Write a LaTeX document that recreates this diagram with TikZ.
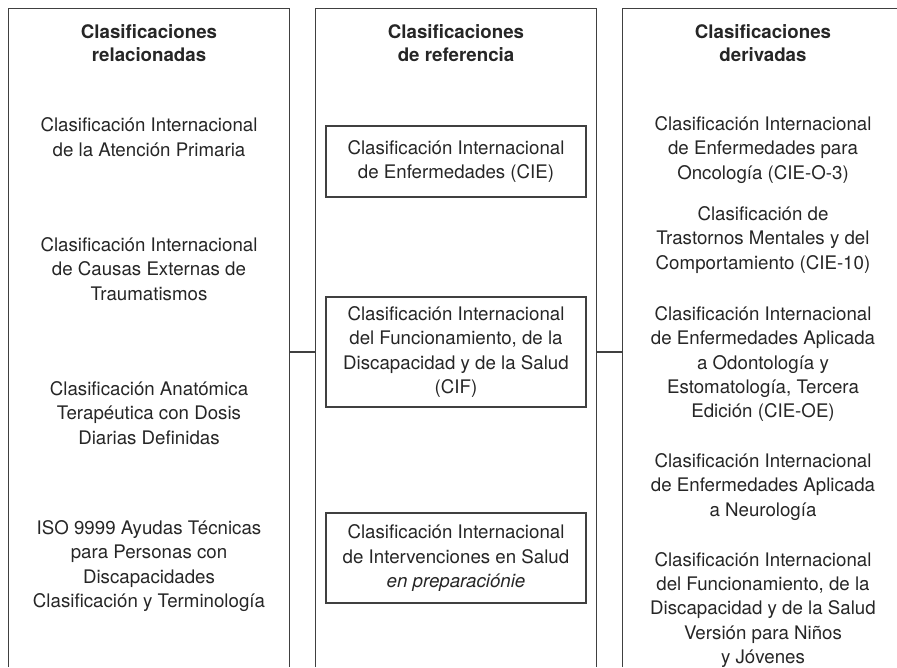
\documentclass[tikz,border=0pt]{standalone}
\usepackage{fontspec}
\setmainfont{TeX Gyre Heros}
\begin{document}
\begin{tikzpicture}[x=1pt,y=-1pt,
    every node/.style={font=\fontsize{18.7}{24.4}\selectfont,text=black!85,align=center,inner sep=0pt},
    head/.style={font=\fontsize{18.7}{23}\selectfont\bfseries},
    colbox/.style={minimum width=280pt,minimum height=658pt},
    refbox/.style={draw=black!75,line width=1.1pt,minimum width=260pt},
    rule/.style={draw=black!75,line width=1.1pt}]
        \useasboundingbox (0,0) rectangle (897,667);
        \clip (0,0) rectangle (897,667);
        % the three columns, open at the bottom
        \node[colbox] (rel) at (149,338) {};
        \node[colbox] (ref) at (456,338) {};
        \node[colbox] (der) at (763,338) {};
        \foreach \c in {rel,ref,der}
          \draw[rule] (\c.south west) |- (\c.north east) -- (\c.south east);
        %% headings
        \node[head] (relh) at (149,43) {Clasificaciones\\relacionadas};
        \node[head] (refh) at (456,43) {Clasificaciones\\de referencia};
        \node[head] (derh) at (763,43) {Clasificaciones\\derivadas};
        %% related
        \node (rel1) at (149,137) {Clasificación Internacional\\de la Atención Primaria};
        \node (rel2) at (149,269) {Clasificación Internacional\\de Causas Externas de\\Traumatismos};
        \node (rel3) at (149,413) {Clasificación Anatómica\\Terapéutica con Dosis\\Diarias Definidas};
        \node (rel4) at (149,566) {ISO 9999 Ayudas Técnicas\\para Personas con\\Discapacidades\\Clasificación y Terminología};
        %% reference, boxed
        \node[refbox,minimum height=71pt] (cie) at (456,161.5) {Clasificación Internacional\\de Enfermedades (CIE)};
        \node[refbox,minimum height=110pt] (cif) at (456,352) {Clasificación Internacional\\del Funcionamiento, de la\\Discapacidad y de la Salud\\(CIF)};
        \node[refbox,minimum height=90pt] (cis) at (456,558) {Clasificación Internacional\\de Intervenciones en Salud\\\textit{en preparaciónie}};
        %% derived
        \node (der1) at (763,150) {Clasificación Internacional\\de Enfermedades para\\Oncología (CIE-O-3)};
        \node (der2) at (763,240) {Clasificación de\\Trastornos Mentales y del\\Comportamiento (CIE-10)};
        \node (der3) at (763,364) {Clasificación Internacional\\de Enfermedades Aplicada\\a Odontología y\\Estomatología, Tercera\\Edición (CIE-OE)};
        \node (der4) at (763,487) {Clasificación Internacional\\de Enfermedades Aplicada\\a Neurología};
        \node (der5) at (763,610) {Clasificación Internacional\\del Funcionamiento, de la\\Discapacidad y de la Salud\\Versión para Niños\\y Jóvenes};
        % links
        \draw[rule] (rel.east |- cif) -- (ref.west |- cif);
        \draw[rule] (ref.east |- cif) -- (der.west |- cif);
      \end{tikzpicture}
\end{document}
